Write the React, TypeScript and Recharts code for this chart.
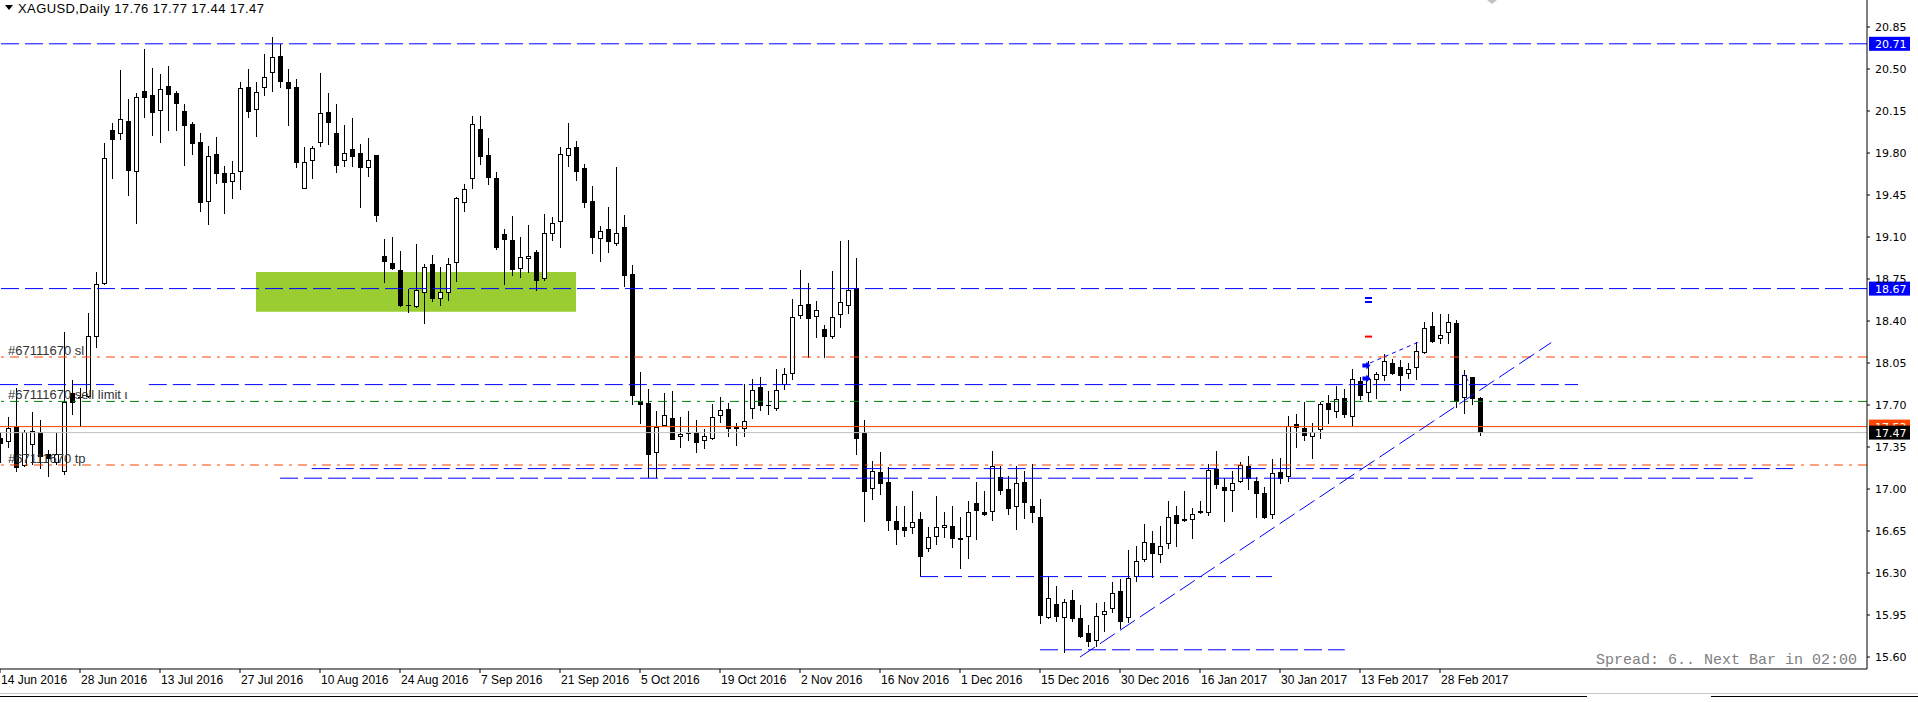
import {
  ComposedChart,
  Bar,
  XAxis,
  YAxis,
  ReferenceLine,
  ReferenceArea,
  ReferenceDot,
} from 'recharts';

// daily XAGUSD bars, 14 Jun 2016 .. 7 Mar 2017 (index 0..185)
const opens = [
  17.422, 17.389, 17.519, 17.194, 17.367, 17.472, 17.292, 17.219, 17.139, 17.797,
  17.769, 17.764, 18.264, 18.711, 19.989, 19.956, 20.064, 19.644, 20.317, 20.281,
  20.147, 20.356, 20.297, 20.147, 20.042, 19.889, 19.389, 19.789, 19.631, 19.556,
  19.639, 20.347, 20.156, 20.339, 20.464, 20.608, 20.389, 20.35, 19.497, 19.731,
  19.881, 20.139, 19.964, 19.731, 19.831, 19.797, 19.672, 19.783, 18.942, 18.881,
  18.822, 18.536, 18.519, 18.631, 18.875, 18.581, 18.631, 18.881, 19.381, 19.581,
  20.0, 19.783, 19.589, 19.125, 19.075, 18.836, 18.919, 18.972, 18.753, 19.122,
  19.228, 19.778, 19.847, 19.672, 19.4, 19.081, 19.164, 19.044, 19.183, 18.792,
  17.731, 17.717, 17.297, 17.522, 17.589, 17.436, 17.467, 17.472, 17.397, 17.419,
  17.606, 17.664, 17.517, 17.497, 17.67, 17.847, 17.697, 17.67, 17.864, 17.961,
  18.439, 18.539, 18.431, 18.333, 18.267, 18.453, 18.522, 18.675, 17.464, 16.997,
  17.139, 17.056, 16.731, 16.681, 16.672, 16.747, 16.497, 16.597, 16.672, 16.689,
  16.592, 16.597, 16.881, 16.808, 16.808, 17.097, 17.0, 16.847, 17.058, 16.858,
  16.767, 15.922, 16.042, 15.928, 16.075, 15.922, 15.8, 15.736, 15.947, 15.997,
  16.15, 15.922, 16.269, 16.406, 16.547, 16.45, 16.539, 16.781, 16.731, 16.739,
  16.797, 16.797, 17.167, 17.014, 16.986, 17.061, 17.192, 17.067, 16.969, 16.781,
  17.142, 17.097, 17.542, 17.506, 17.436, 17.489, 17.717, 17.644, 17.758, 17.603,
  17.9, 17.797, 17.906, 17.944, 18.047, 18.014, 17.956, 18.006, 18.131, 18.358,
  18.247, 18.297, 18.381, 17.756, 17.931, 17.76,
];

const highs = [
  17.478, 17.603, 17.839, 17.492, 17.639, 17.575, 17.325, 17.464, 18.311, 17.908,
  17.839, 18.464, 18.811, 19.881, 20.047, 20.492, 20.25, 20.297, 20.664, 20.506,
  20.458, 20.525, 20.319, 20.208, 20.056, 19.964, 19.858, 19.933, 19.694, 19.733,
  20.394, 20.5, 20.394, 20.625, 20.764, 20.708, 20.5, 20.414, 19.85, 19.858,
  20.47, 20.297, 20.208, 20.033, 20.089, 19.875, 19.928, 19.783, 19.083, 19.1,
  18.983, 18.664, 19.042, 18.875, 18.95, 18.85, 18.922, 19.431, 19.539, 20.108,
  20.108, 19.922, 19.639, 19.167, 19.275, 19.1, 19.2, 18.992, 19.292, 19.267,
  19.847, 20.05, 19.9, 19.708, 19.525, 19.192, 19.35, 19.683, 19.283, 18.867,
  17.975, 17.833, 17.65, 17.8, 17.817, 17.6, 17.65, 17.575, 17.5, 17.708,
  17.767, 17.717, 17.55, 17.872, 17.917, 17.933, 17.814, 18.0, 18.008, 18.583,
  18.825, 18.717, 18.564, 18.364, 18.817, 19.07, 19.078, 18.925, 17.572, 17.231,
  17.306, 17.186, 16.856, 16.856, 16.981, 16.806, 16.681, 16.939, 16.806, 16.856,
  16.764, 16.897, 17.056, 16.981, 17.314, 17.194, 17.108, 17.194, 17.153, 17.206,
  16.917, 16.275, 16.192, 16.083, 16.158, 16.033, 15.867, 16.047, 16.056, 16.228,
  16.247, 16.492, 16.525, 16.708, 16.65, 16.692, 16.9, 16.858, 16.983, 16.839,
  16.903, 17.208, 17.317, 17.089, 17.15, 17.222, 17.278, 17.103, 17.019, 17.247,
  17.261, 17.608, 17.625, 17.728, 17.547, 17.722, 17.783, 17.858, 17.833, 18.0,
  17.936, 18.067, 17.978, 18.125, 18.083, 18.075, 18.047, 18.222, 18.394, 18.472,
  18.458, 18.458, 18.408, 17.992, 17.936, 17.77,
];

const lows = [
  17.214, 17.339, 17.144, 17.186, 17.2, 17.164, 17.097, 17.2, 17.117, 17.617,
  17.514, 17.756, 18.172, 18.7, 19.581, 19.908, 19.444, 19.211, 20.089, 19.944,
  19.881, 19.986, 19.986, 19.694, 19.786, 19.311, 19.197, 19.544, 19.289, 19.417,
  19.494, 20.089, 19.936, 20.275, 20.311, 20.344, 20.028, 19.678, 19.497, 19.581,
  19.853, 19.869, 19.636, 19.686, 19.686, 19.344, 19.603, 19.222, 18.714, 18.825,
  18.519, 18.469, 18.506, 18.372, 18.561, 18.528, 18.569, 18.728, 19.311, 19.5,
  19.7, 19.536, 18.992, 18.7, 18.775, 18.761, 18.803, 18.653, 18.736, 19.069,
  19.011, 19.686, 19.569, 19.344, 18.958, 18.894, 18.969, 19.028, 18.683, 17.703,
  17.544, 17.089, 17.089, 17.522, 17.411, 17.344, 17.403, 17.297, 17.336, 17.411,
  17.553, 17.436, 17.361, 17.436, 17.583, 17.653, 17.614, 17.647, 17.828, 17.911,
  18.419, 18.092, 18.258, 18.092, 18.253, 18.342, 18.458, 17.286, 16.728, 16.911,
  16.953, 16.653, 16.531, 16.6, 16.628, 16.272, 16.472, 16.536, 16.592, 16.508,
  16.333, 16.419, 16.578, 16.772, 16.731, 16.95, 16.783, 16.658, 16.75, 16.714,
  15.872, 15.914, 15.894, 15.631, 15.894, 15.761, 15.686, 15.686, 15.811, 15.964,
  15.831, 15.886, 16.228, 16.389, 16.256, 16.386, 16.497, 16.519, 16.722, 16.586,
  16.792, 16.778, 17.003, 16.728, 16.811, 17.047, 16.992, 16.756, 16.747, 16.747,
  17.042, 17.061, 17.344, 17.403, 17.25, 17.417, 17.542, 17.594, 17.594, 17.519,
  17.742, 17.728, 17.747, 17.903, 17.95, 17.819, 17.914, 17.908, 18.125, 18.219,
  18.206, 18.206, 17.672, 17.622, 17.7, 17.44,
];

const closes = [
  17.372, 17.506, 17.172, 17.472, 17.486, 17.264, 17.247, 17.292, 17.722, 17.714,
  17.756, 18.278, 18.706, 19.756, 19.906, 20.081, 19.653, 20.264, 20.261, 20.136,
  20.331, 20.286, 20.211, 20.028, 19.878, 19.381, 19.775, 19.622, 19.547, 19.631,
  20.339, 20.144, 20.306, 20.431, 20.597, 20.394, 20.336, 19.719, 19.722, 19.839,
  20.131, 20.047, 19.694, 19.797, 19.769, 19.678, 19.739, 19.278, 18.894, 18.831,
  18.528, 18.531, 18.658, 18.847, 18.586, 18.642, 18.875, 19.422, 19.497, 20.039,
  19.769, 19.594, 19.011, 19.075, 18.825, 18.931, 18.942, 18.736, 19.131, 19.214,
  19.789, 19.839, 19.644, 19.386, 19.094, 19.147, 19.061, 19.131, 18.778, 17.778,
  17.703, 17.286, 17.514, 17.614, 17.411, 17.456, 17.461, 17.386, 17.439, 17.597,
  17.656, 17.503, 17.503, 17.564, 17.828, 17.689, 17.692, 17.828, 17.958, 18.433,
  18.531, 18.419, 18.489, 18.264, 18.431, 18.556, 18.656, 17.42, 16.978, 17.147,
  17.044, 16.736, 16.656, 16.653, 16.722, 16.431, 16.603, 16.681, 16.7, 16.586,
  16.578, 16.806, 16.814, 16.786, 17.189, 16.986, 16.836, 17.05, 16.881, 16.803,
  15.944, 16.089, 15.936, 16.056, 15.914, 15.769, 15.722, 15.939, 15.981, 16.131,
  15.894, 16.258, 16.397, 16.556, 16.456, 16.528, 16.764, 16.706, 16.75, 16.789,
  16.817, 17.158, 17.031, 16.981, 17.05, 17.2, 17.083, 16.956, 16.761, 17.131,
  17.086, 17.525, 17.511, 17.445, 17.472, 17.708, 17.661, 17.75, 17.617, 17.917,
  17.778, 17.917, 17.956, 18.067, 17.958, 17.944, 18.0, 18.15, 18.339, 18.228,
  18.283, 18.389, 17.728, 17.95, 17.747, 17.47,
];

// x-axis labels, one every 10 bars
const dateLabels = [
  '14 Jun 2016', '28 Jun 2016', '13 Jul 2016', '27 Jul 2016', '10 Aug 2016',
  '24 Aug 2016', '7 Sep 2016', '21 Sep 2016', '5 Oct 2016', '19 Oct 2016',
  '2 Nov 2016', '16 Nov 2016', '1 Dec 2016', '15 Dec 2016', '30 Dec 2016',
  '16 Jan 2017', '30 Jan 2017', '13 Feb 2017', '28 Feb 2017',
];
const dateTicks = dateLabels.map((_, i) => i * 10);

const priceTicks = [
  15.6, 15.95, 16.3, 16.65, 17.0, 17.35, 17.7, 18.05, 18.4, 18.75, 19.1, 19.45,
  19.8, 20.15, 20.5, 20.85,
];

const data = opens.map((open, i) => ({
  i,
  open,
  high: highs[i],
  low: lows[i],
  close: closes[i],
  range: [lows[i], highs[i]],
}));

const BLUE = '#0000ff';
const ORANGE = '#ff4500';
const GREEN = '#008000';

const Candle = (props: any) => {
  const { x, y, width, height, payload } = props;
  if (!payload || height == null) return null;
  const { open, close, high, low } = payload;
  const ppu = height / (high - low);
  const py = (v: number) => y + (high - v) * ppu;
  const cx = Math.round(x + width / 2);
  const top = Math.round(py(Math.max(open, close)));
  const bot = Math.round(py(Math.min(open, close)));
  const bull = close >= open;
  return (
    <g>
      <line x1={cx + 0.5} x2={cx + 0.5} y1={Math.round(y)} y2={Math.round(y + height)} stroke="#000" />
      {bot - top < 2 ? (
        <line x1={cx - 2} x2={cx + 3} y1={top + 0.5} y2={top + 0.5} stroke="#000" />
      ) : (
        <rect x={cx - 1.5} y={top + 0.5} width={4} height={bot - top - 1} fill={bull ? '#fff' : '#000'} stroke="#000" />
      )}
    </g>
  );
};

const DateTick = (props: any) => {
  const { x, y, payload } = props;
  return (
    <text x={x + 1} y={y + 9} fontSize={12} fontFamily="Liberation Sans" fill="#000" textAnchor="start">
      {dateLabels[Math.round(payload.value / 10)]}
    </text>
  );
};

const axisBox = (text: string, bg: string) => (props: any) => {
  const vb = props.viewBox;
  if (!vb) return null;
  const right = vb.x + vb.width;
  return (
    <g>
      <rect x={right + 2} y={vb.y - 7} width={41} height={14} fill={bg} />
      <text x={right + 8} y={vb.y + 4} fill="#fff" fontSize={11} fontFamily="DejaVu Sans">
        {text}
      </text>
    </g>
  );
};

const leftText = (text: string) => (props: any) => {
  const vb = props.viewBox;
  if (!vb) return null;
  return (
    <text x={8} y={vb.y - 2} fill="#333" fontSize={13} fontFamily="Liberation Sans">
      {text}
    </text>
  );
};

const ArrowMark = (props: any) => (
  <path d={`M${props.cx - 4},${props.cy - 2} h4 v-2 l4,4 l-4,4 v-2 h-4 z`} fill={BLUE} />
);
const EqMark = (props: any) => (
  <g>
    <rect x={props.cx - 3} y={props.cy - 3} width={7} height={2} fill={BLUE} />
    <rect x={props.cx - 3} y={props.cy + 1} width={7} height={2} fill={BLUE} />
  </g>
);
const DashMark = (props: any) => (
  <rect x={props.cx - 3} y={props.cy - 1} width={7} height={2} fill="#ff0000" />
);

export default function App() {
  return (
    <div style={{ position: 'relative', width: 1918, height: 702, background: '#fff', overflow: 'hidden' }}>
      <style>{'html, body { margin: 0; padding: 0; overflow: hidden; }'}</style>
      <ComposedChart width={1918} height={702} data={data} margin={{ top: 0, right: 0, bottom: 0, left: 0 }}>
        <XAxis
          dataKey="i"
          type="number"
          domain={[0, 1867 / 8]}
          allowDataOverflow
          ticks={dateTicks}
          tick={<DateTick />}
          height={33}
          tickSize={4}
          tickMargin={2}
          stroke="#000"
          interval={0}
        />
        <YAxis
          orientation="right"
          domain={[15.5, 21.075]}
          allowDataOverflow
          ticks={priceTicks}
          tickFormatter={(v: number) => v.toFixed(2)}
          width={51}
          tickSize={3}
          tickMargin={5}
          stroke="#000"
          tick={{ fill: '#000', fontSize: 11, fontFamily: 'DejaVu Sans' }}
        />
        <ReferenceArea x1={32} x2={72} y1={18.478} y2={18.808} fill="#9acd32" fillOpacity={1} stroke="none" />

        <ReferenceLine y={20.71} stroke={BLUE} strokeDasharray="18 6" label={axisBox('20.71', BLUE)} />
        <ReferenceLine y={18.67} stroke={BLUE} strokeDasharray="18 6" label={axisBox('18.67', BLUE)} />
        <ReferenceLine y={18.1} stroke={ORANGE} strokeDasharray="9 6 3 6" label={leftText('#67111670 sl')} />
        <ReferenceLine segment={[{ x: 0, y: 17.87 }, { x: 14.5, y: 17.87 }]} stroke={BLUE} strokeDasharray="18 6" />
        <ReferenceLine segment={[{ x: 18.6, y: 17.87 }, { x: 197.25, y: 17.87 }]} stroke={BLUE} strokeDasharray="18 6" />
        <ReferenceLine y={17.73} stroke={GREEN} strokeDasharray="9 6 3 6" label={leftText('#67111670 sell limit ι')} />
        <ReferenceLine y={17.52} stroke={ORANGE} label={axisBox('17.52', ORANGE)} />
        <ReferenceLine y={17.47} stroke="#c0c0c0" label={axisBox('17.47', '#000')} />
        <ReferenceLine y={17.2} stroke={ORANGE} strokeDasharray="9 6 3 6" label={leftText('#67111670 tp')} />
        <ReferenceLine segment={[{ x: 38.96, y: 17.17 }, { x: 224.1, y: 17.17 }]} stroke={BLUE} strokeDasharray="18 6" />
        <ReferenceLine segment={[{ x: 35, y: 17.09 }, { x: 219.1, y: 17.09 }]} stroke={BLUE} strokeDasharray="18 6" />
        <ReferenceLine segment={[{ x: 115, y: 16.27 }, { x: 159, y: 16.27 }]} stroke={BLUE} strokeDasharray="18 6" />
        <ReferenceLine segment={[{ x: 130, y: 15.66 }, { x: 168.1, y: 15.66 }]} stroke={BLUE} strokeDasharray="18 6" />

        {/* trend line + trade lines */}
        <ReferenceLine segment={[{ x: 135, y: 15.6 }, { x: 193.9, y: 18.22 }]} stroke={BLUE} strokeDasharray="18 6" ifOverflow="visible" />
        <ReferenceLine segment={[{ x: 171.25, y: 18.05 }, { x: 177.5, y: 18.23 }]} stroke={BLUE} strokeDasharray="4 4" />
        <ReferenceLine segment={[{ x: 183, y: 17.96 }, { x: 183.6, y: 17.89 }]} stroke={BLUE} strokeDasharray="3 2" />

        <Bar dataKey="range" barSize={5} isAnimationActive={false} shape={(p: any) => <Candle {...p} />} />

        <ReferenceDot x={170.8} y={18.03} r={4} shape={(p: any) => <ArrowMark {...p} />} />
        <ReferenceDot x={170.8} y={17.92} r={4} shape={(p: any) => <ArrowMark {...p} />} />
        <ReferenceDot x={171} y={18.575} r={4} shape={(p: any) => <EqMark {...p} />} />
        <ReferenceDot x={171} y={18.27} r={4} shape={(p: any) => <DashMark {...p} />} />
      </ComposedChart>

      <svg width={1918} height={702} style={{ position: 'absolute', left: 0, top: 0, pointerEvents: 'none' }}>
        <path d="M5,5 h8 l-4,5 z" fill="#000" />
        <text x={18} y={13} fontSize={13} letterSpacing={0.4} fontFamily="Liberation Sans" fill="#000">
          XAGUSD,Daily  17.76 17.77 17.44 17.47
        </text>
        <path d="M1487,0 h10 l-5,4 z" fill="#c0c0c0" />
        <text x={1857} y={664} textAnchor="end" fontSize={15} fontFamily="Liberation Mono" fill="#808080">
          Spread: 6.. Next Bar in 02:00
        </text>
        <line x1={0} x2={1918} y1={693.5} y2={693.5} stroke="#c8c8c8" />
        <line x1={0} x2={1587} y1={696.5} y2={696.5} stroke="#000" />
        <line x1={1711} x2={1918} y1={696.5} y2={696.5} stroke="#000" />
      </svg>
    </div>
  );
}
